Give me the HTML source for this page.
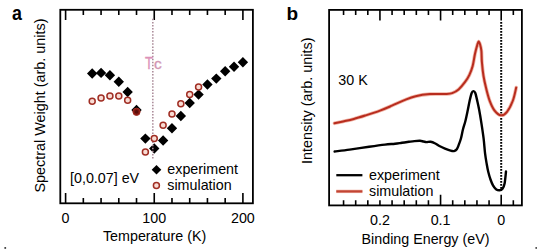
<!DOCTYPE html>
<html><head><meta charset="utf-8"><style>
html,body{margin:0;padding:0;background:#fff;width:537px;height:252px;overflow:hidden}
svg{display:block}
text{font-family:"Liberation Sans", sans-serif}
</style></head><body>
<svg width="537" height="252" viewBox="0 0 537 252"><rect x="60.3" y="9.8" width="192.6" height="193.5" fill="none" stroke="#000" stroke-width="1.8"/>
<path d="M65.6 9.8V20.1M65.6 203.3V193M83.33 9.8V15M83.33 203.3V198.1M101.06 9.8V15M101.06 203.3V198.1M118.79 9.8V15M118.79 203.3V198.1M136.52 9.8V15M136.52 203.3V198.1M154.25 9.8V20.1M154.25 203.3V193M171.98 9.8V15M171.98 203.3V198.1M189.71 9.8V15M189.71 203.3V198.1M207.44 9.8V15M207.44 203.3V198.1M225.17 9.8V15M225.17 203.3V198.1M242.9 9.8V20.1M242.9 203.3V193" stroke="#000" stroke-width="1.6" fill="none"/>
<path d="M92.19 68.3L97.39 73.5L92.19 78.7L86.99 73.5ZM101.06 67.7L106.26 72.9L101.06 78.1L95.86 72.9ZM109.92 70L115.12 75.2L109.92 80.4L104.72 75.2ZM118.79 76.6L123.99 81.8L118.79 87L113.59 81.8ZM127.66 86.8L132.85 92L127.66 97.2L122.45 92ZM136.52 104.8L141.72 110L136.52 115.2L131.32 110ZM145.38 133.4L150.58 138.6L145.38 143.8L140.19 138.6ZM154.25 143.3L159.45 148.5L154.25 153.7L149.05 148.5ZM163.12 135.3L168.31 140.5L163.12 145.7L157.92 140.5ZM171.98 123L177.18 128.2L171.98 133.4L166.78 128.2ZM180.84 110.8L186.04 116L180.84 121.2L175.64 116ZM189.71 97.8L194.91 103L189.71 108.2L184.51 103ZM198.57 89.4L203.77 94.6L198.57 99.8L193.38 94.6ZM207.44 79.3L212.64 84.5L207.44 89.7L202.24 84.5ZM216.3 73.4L221.5 78.6L216.3 83.8L211.1 78.6ZM225.17 66L230.37 71.2L225.17 76.4L219.97 71.2ZM234.03 61.5L239.23 66.7L234.03 71.9L228.84 66.7ZM242.9 57.1L248.1 62.3L242.9 67.5L237.7 62.3Z" fill="#000"/>
<path d="M152 18.81h1.6v1.5h-1.6zM152 21.88h1.6v1.5h-1.6zM152 24.95h1.6v1.5h-1.6zM152 28.02h1.6v1.5h-1.6zM152 31.09h1.6v1.5h-1.6zM152 34.16h1.6v1.5h-1.6zM152 37.23h1.6v1.5h-1.6zM152 40.3h1.6v1.5h-1.6zM152 43.37h1.6v1.5h-1.6zM152 46.44h1.6v1.5h-1.6zM152 49.51h1.6v1.5h-1.6zM152 52.58h1.6v1.5h-1.6zM152 55.65h1.6v1.5h-1.6zM152 58.72h1.6v1.5h-1.6zM152 61.79h1.6v1.5h-1.6zM152 64.86h1.6v1.5h-1.6zM152 67.93h1.6v1.5h-1.6zM152 71h1.6v1.5h-1.6zM152 74.07h1.6v1.5h-1.6zM152 77.14h1.6v1.5h-1.6zM152 80.21h1.6v1.5h-1.6zM152 83.28h1.6v1.5h-1.6zM152 86.35h1.6v1.5h-1.6zM152 89.42h1.6v1.5h-1.6zM152 92.49h1.6v1.5h-1.6zM152 95.56h1.6v1.5h-1.6zM152 98.63h1.6v1.5h-1.6zM152 101.7h1.6v1.5h-1.6zM152 104.77h1.6v1.5h-1.6zM152 107.84h1.6v1.5h-1.6zM152 110.91h1.6v1.5h-1.6zM152 113.98h1.6v1.5h-1.6zM152 117.05h1.6v1.5h-1.6zM152 120.12h1.6v1.5h-1.6zM152 123.19h1.6v1.5h-1.6zM152 126.26h1.6v1.5h-1.6zM152 129.33h1.6v1.5h-1.6zM152 132.4h1.6v1.5h-1.6zM152 135.47h1.6v1.5h-1.6zM152 138.54h1.6v1.5h-1.6zM152 141.61h1.6v1.5h-1.6zM152 144.68h1.6v1.5h-1.6zM152 147.75h1.6v1.5h-1.6zM152 150.82h1.6v1.5h-1.6zM152 153.89h1.6v1.5h-1.6zM152 156.96h1.6v1.5h-1.6z" fill="#ad8e9c"/>
<circle cx="92.19" cy="101.3" r="3.0" fill="#f9dcd4" stroke="#a02e24" stroke-width="1.5"/>
<circle cx="101.06" cy="98.1" r="3.0" fill="#f9dcd4" stroke="#a02e24" stroke-width="1.5"/>
<circle cx="109.92" cy="96" r="3.0" fill="#f9dcd4" stroke="#a02e24" stroke-width="1.5"/>
<circle cx="118.79" cy="96" r="3.0" fill="#f9dcd4" stroke="#a02e24" stroke-width="1.5"/>
<circle cx="127.66" cy="100.2" r="3.0" fill="#f9dcd4" stroke="#a02e24" stroke-width="1.5"/>
<circle cx="136.52" cy="111.8" r="3.6" fill="#7e1a12" stroke="#a52a20" stroke-width="1"/>
<circle cx="136.52" cy="111.8" r="1.8" fill="#5a0e0a"/>
<circle cx="145.38" cy="152" r="3.0" fill="#f9dcd4" stroke="#a02e24" stroke-width="1.5"/>
<circle cx="154.25" cy="138.6" r="3.0" fill="#f9dcd4" stroke="#a02e24" stroke-width="1.5"/>
<circle cx="163.12" cy="125.3" r="3.0" fill="#f9dcd4" stroke="#a02e24" stroke-width="1.5"/>
<circle cx="171.98" cy="113.9" r="3.0" fill="#f9dcd4" stroke="#a02e24" stroke-width="1.5"/>
<circle cx="180.84" cy="103.8" r="3.0" fill="#f9dcd4" stroke="#a02e24" stroke-width="1.5"/>
<circle cx="189.71" cy="94.6" r="3.0" fill="#f9dcd4" stroke="#a02e24" stroke-width="1.5"/>
<circle cx="198.57" cy="86.9" r="3.0" fill="#f9dcd4" stroke="#a02e24" stroke-width="1.5"/>
<text transform="translate(145.1 68.7) scale(0.81 1)" font-size="16" fill="#dc92b8" stroke="#dc92b8" stroke-width="0.35">T</text>
<text x="153.9" y="68.7" font-size="15.5" fill="#d296b4" stroke="#d296b4" stroke-width="0.3">c</text>
<path d="M156.5 165L161.3 169.8L156.5 174.6L151.7 169.8Z" fill="#000"/>
<circle cx="156.4" cy="185.6" r="3.0" fill="#f9dcd4" stroke="#a02e24" stroke-width="1.5"/>
<text x="167.3" y="173.5" font-size="14.3">experiment</text>
<text x="167.3" y="190" font-size="14.3">simulation</text>
<text x="70" y="183.3" font-size="14.3">[0,0.07] eV</text>
<text x="65.6" y="222.9" font-size="14.3" text-anchor="middle">0</text>
<text x="154.25" y="222.9" font-size="14.3" text-anchor="middle">100</text>
<text x="242.9" y="222.9" font-size="14.3" text-anchor="middle">200</text>
<text x="154.6" y="241" font-size="14.3" text-anchor="middle">Temperature (K)</text>
<text transform="translate(44.5 105.5) rotate(-90)" font-size="14.4" text-anchor="middle">Spectral Weight (arb. units)</text>
<text transform="translate(12.1 19.6) scale(0.94 1.04)" font-size="19" font-weight="bold">a</text>
<rect x="329.1" y="9.9" width="192.8" height="195.5" fill="none" stroke="#000" stroke-width="1.8"/>
<path d="M513.33 9.9V15.1M513.33 205.4V200.2M501.2 9.9V20.5M501.2 205.4V194.8M489.07 9.9V15.1M489.07 205.4V200.2M476.95 9.9V15.1M476.95 205.4V200.2M464.82 9.9V15.1M464.82 205.4V200.2M452.7 9.9V15.1M452.7 205.4V200.2M440.57 9.9V20.5M440.57 205.4V194.8M428.44 9.9V15.1M428.44 205.4V200.2M416.32 9.9V15.1M416.32 205.4V200.2M404.19 9.9V15.1M404.19 205.4V200.2M392.07 9.9V15.1M392.07 205.4V200.2M379.94 9.9V20.5M379.94 205.4V200.2M367.81 9.9V15.1M367.81 205.4V200.2M355.69 9.9V15.1M355.69 205.4V200.2M343.56 9.9V15.1M343.56 205.4V200.2" stroke="#000" stroke-width="1.6" fill="none"/>
<path d="M500.2 22.1h2v1.6h-2zM500.2 25.1h2v1.6h-2zM500.2 28.1h2v1.6h-2zM500.2 31.1h2v1.6h-2zM500.2 34.1h2v1.6h-2zM500.2 37.1h2v1.6h-2zM500.2 40.1h2v1.6h-2zM500.2 43.1h2v1.6h-2zM500.2 46.1h2v1.6h-2zM500.2 49.1h2v1.6h-2zM500.2 52.1h2v1.6h-2zM500.2 55.1h2v1.6h-2zM500.2 58.1h2v1.6h-2zM500.2 61.1h2v1.6h-2zM500.2 64.1h2v1.6h-2zM500.2 67.1h2v1.6h-2zM500.2 70.1h2v1.6h-2zM500.2 73.1h2v1.6h-2zM500.2 76.1h2v1.6h-2zM500.2 79.1h2v1.6h-2zM500.2 82.1h2v1.6h-2zM500.2 85.1h2v1.6h-2zM500.2 88.1h2v1.6h-2zM500.2 91.1h2v1.6h-2zM500.2 94.1h2v1.6h-2zM500.2 97.1h2v1.6h-2zM500.2 100.1h2v1.6h-2zM500.2 103.1h2v1.6h-2zM500.2 106.1h2v1.6h-2zM500.2 109.1h2v1.6h-2zM500.2 112.1h2v1.6h-2zM500.2 115.1h2v1.6h-2zM500.2 118.1h2v1.6h-2zM500.2 121.1h2v1.6h-2zM500.2 124.1h2v1.6h-2zM500.2 127.1h2v1.6h-2zM500.2 130.1h2v1.6h-2zM500.2 133.1h2v1.6h-2zM500.2 136.1h2v1.6h-2zM500.2 139.1h2v1.6h-2zM500.2 142.1h2v1.6h-2zM500.2 145.1h2v1.6h-2zM500.2 148.1h2v1.6h-2zM500.2 151.1h2v1.6h-2zM500.2 154.1h2v1.6h-2zM500.2 157.1h2v1.6h-2zM500.2 160.1h2v1.6h-2zM500.2 163.1h2v1.6h-2zM500.2 166.1h2v1.6h-2zM500.2 169.1h2v1.6h-2zM500.2 172.1h2v1.6h-2zM500.2 175.1h2v1.6h-2zM500.2 178.1h2v1.6h-2zM500.2 181.1h2v1.6h-2zM500.2 184.1h2v1.6h-2zM500.2 187.1h2v1.6h-2z" fill="#000"/>
<path d="M334.5 123.3C335.73 123.03 338.68 122.42 341.9 121.7C345.12 120.98 349.83 120.05 353.8 119C357.77 117.95 361.33 116.8 365.7 115.4C370.07 114 375.63 112.22 380 110.6C384.37 108.98 387.93 107.4 391.9 105.7C395.87 104 399.83 101.98 403.8 100.4C407.77 98.82 411.33 97.25 415.7 96.2C420.07 95.15 424.97 94.47 430 94.1C435.03 93.73 442.2 94.17 445.9 94C449.6 93.83 450.08 93.87 452.2 93.1C454.32 92.33 456.48 91.22 458.6 89.4C460.72 87.58 463.12 84.58 464.9 82.2C466.68 79.82 468.02 77.75 469.3 75.1C470.58 72.45 471.65 69.85 472.6 66.3C473.55 62.75 474.23 57.32 475 53.8C475.77 50.28 476.6 47.25 477.2 45.2C477.8 43.15 478.12 41.62 478.6 41.5C479.08 41.38 479.63 42.92 480.1 44.5C480.57 46.08 481.1 48.08 481.4 51C481.7 53.92 481.55 57.83 481.9 62C482.25 66.17 482.78 71.57 483.5 76C484.22 80.43 485.17 84.47 486.2 88.6C487.23 92.73 488.3 97.13 489.7 100.8C491.1 104.47 492.72 108.18 494.6 110.6C496.48 113.02 498.93 115.1 501 115.3C503.07 115.5 505.02 114.27 507 111.8C508.98 109.33 511.37 104.53 512.9 100.5C514.43 96.47 515.65 89.75 516.2 87.6" fill="none" stroke="#f0b4a6" stroke-width="3.6" stroke-linejoin="round" stroke-linecap="round"/>
<path d="M334.5 123.3C335.73 123.03 338.68 122.42 341.9 121.7C345.12 120.98 349.83 120.05 353.8 119C357.77 117.95 361.33 116.8 365.7 115.4C370.07 114 375.63 112.22 380 110.6C384.37 108.98 387.93 107.4 391.9 105.7C395.87 104 399.83 101.98 403.8 100.4C407.77 98.82 411.33 97.25 415.7 96.2C420.07 95.15 424.97 94.47 430 94.1C435.03 93.73 442.2 94.17 445.9 94C449.6 93.83 450.08 93.87 452.2 93.1C454.32 92.33 456.48 91.22 458.6 89.4C460.72 87.58 463.12 84.58 464.9 82.2C466.68 79.82 468.02 77.75 469.3 75.1C470.58 72.45 471.65 69.85 472.6 66.3C473.55 62.75 474.23 57.32 475 53.8C475.77 50.28 476.6 47.25 477.2 45.2C477.8 43.15 478.12 41.62 478.6 41.5C479.08 41.38 479.63 42.92 480.1 44.5C480.57 46.08 481.1 48.08 481.4 51C481.7 53.92 481.55 57.83 481.9 62C482.25 66.17 482.78 71.57 483.5 76C484.22 80.43 485.17 84.47 486.2 88.6C487.23 92.73 488.3 97.13 489.7 100.8C491.1 104.47 492.72 108.18 494.6 110.6C496.48 113.02 498.93 115.1 501 115.3C503.07 115.5 505.02 114.27 507 111.8C508.98 109.33 511.37 104.53 512.9 100.5C514.43 96.47 515.65 89.75 516.2 87.6" fill="none" stroke="#b82c1e" stroke-width="2.0" stroke-linejoin="round" stroke-linecap="round"/>
<path d="M334.6 151.5C337.1 151.18 343.85 150.4 349.6 149.6C355.35 148.8 363.2 147.53 369.1 146.7C375 145.87 380.68 145.09 385 144.6C389.32 144.11 392.18 144.05 395 143.75C397.82 143.45 399.58 143.12 401.9 142.8C404.22 142.48 406.82 142.08 408.9 141.8C410.98 141.52 412.55 141.27 414.4 141.1C416.25 140.93 418.48 140.73 420 140.8C421.52 140.87 422.4 141.28 423.5 141.5C424.6 141.72 425.42 142.05 426.6 142.1C427.78 142.15 429.15 141.57 430.6 141.8C432.05 142.03 433.83 142.8 435.3 143.5C436.77 144.2 437.78 145.15 439.4 146C441.02 146.85 443.13 147.82 445 148.6C446.87 149.38 449.1 150.28 450.6 150.7C452.1 151.12 452.97 151.33 454 151.1C455.03 150.87 455.98 150.42 456.8 149.3C457.62 148.18 458.2 146.25 458.9 144.4C459.6 142.55 460.32 140.73 461 138.2C461.68 135.67 462.27 132.07 463 129.2C463.73 126.33 464.6 124.2 465.4 121C466.2 117.8 467.1 113.33 467.8 110C468.5 106.67 468.97 103.8 469.6 101C470.23 98.2 470.97 94.85 471.6 93.2C472.23 91.55 472.78 91.13 473.4 91.1C474.02 91.07 474.63 91.27 475.3 93C475.97 94.73 476.75 98.67 477.4 101.5C478.05 104.33 478.53 106.4 479.2 110C479.87 113.6 480.67 118.37 481.4 123.1C482.13 127.83 482.98 133.3 483.6 138.4C484.22 143.5 484.57 149.35 485.1 153.7C485.63 158.05 486.27 161.45 486.8 164.5C487.33 167.55 487.68 169.5 488.3 172C488.92 174.5 489.72 177.27 490.5 179.5C491.28 181.73 492.08 183.78 493 185.4C493.92 187.02 494.92 188.38 496 189.2C497.08 190.02 498.42 190.37 499.5 190.3C500.58 190.23 501.65 189.93 502.5 188.8C503.35 187.67 504.02 186.38 504.6 183.5C505.18 180.62 505.77 173.5 506 171.5" fill="none" stroke="#000" stroke-width="2.4" stroke-linejoin="round" stroke-linecap="round"/>
<line x1="336.3" y1="175.2" x2="362.4" y2="175.2" stroke="#000" stroke-width="2.3"/>
<line x1="336.3" y1="191.4" x2="362.4" y2="191.4" stroke="#f0b8aa" stroke-width="3.4"/>
<line x1="336.3" y1="191.4" x2="362.4" y2="191.4" stroke="#c24434" stroke-width="2.2"/>
<text x="369" y="179.8" font-size="14.3">experiment</text>
<text x="369" y="195.9" font-size="14.3">simulation</text>
<text x="338.3" y="85.1" font-size="14.3">30 K</text>
<text x="379.94" y="225.4" font-size="14.3" text-anchor="middle">0.2</text>
<text x="440.57" y="225.4" font-size="14.3" text-anchor="middle">0.1</text>
<text x="501.2" y="225.4" font-size="14.3" text-anchor="middle">0</text>
<text x="425.5" y="243.5" font-size="14.3" text-anchor="middle">Binding Energy (eV)</text>
<text transform="translate(312.4 100.7) rotate(-90)" font-size="14.4" text-anchor="middle">Intensity (arb. units)</text>
<text x="286.5" y="19.6" font-size="19" font-weight="bold">b</text>
<rect x="4.4" y="247.1" width="1.7" height="1.7" fill="#333"/>
<rect x="535.4" y="247.1" width="1.6" height="1.7" fill="#444"/></svg>
</body></html>
